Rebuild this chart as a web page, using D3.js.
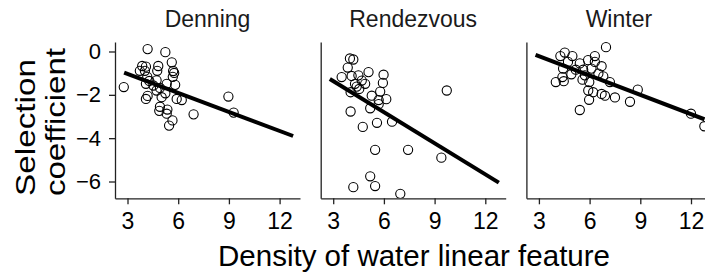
<!DOCTYPE html>
<html>
<head>
<meta charset="utf-8">
<script src="https://cdn.jsdelivr.net/npm/d3@7"></script>
<style>
  body { margin: 0; background: #fff; }
  svg { display: block; font-family: "Liberation Sans", Arial, sans-serif; }
</style>
</head>
<body>
<svg id="chart" width="705" height="275"></svg>
<script>
// facets
var seasons = ["Denning", "Rendezvous", "Winter"];

// points
var denX = [4.19, 5.24, 2.78, 5.62, 3.87, 4.09, 4.82, 3.73, 4.03, 4.76, 5.76, 5.68, 4.17, 4.29, 4.72, 4.09, 5.32, 5.82, 4.92, 4.72,
            5.24, 4.19, 4.09, 5.02, 5.91, 6.21, 4.92, 4.88, 5.36, 5.32, 6.91, 5.66, 5.46, 8.97, 9.28, 4.53, 5.70];
var denY = [0.11, -0.03, -1.64, -0.5, -0.67, -0.7, -0.67, -0.89, -0.89, -0.89, -0.99, -1.17, -1.17, -1.36, -1.33, -1.49, -1.49, -1.54, -1.68, -1.8,
            -1.93, -2.05, -2.19, -2.11, -2.19, -2.24, -2.55, -2.74, -2.68, -2.87, -2.9, -3.18, -3.42, -2.08, -2.82, -1.57, -0.9];

var renX = [3.99, 4.19, 3.86, 3.5, 4.09, 4.49, 5.09, 5.98, 4.69, 4.89, 4.29, 4.03, 4.54, 5.28, 5.78, 5.94, 6.14, 5.19, 5.69, 4.03,
            5.59, 4.75, 6.48, 9.72, 5.48, 7.43, 9.4, 5.19, 5.48, 4.19, 6.97, 4.39, 5.69];
var renY = [-0.32, -0.37, -0.74, -1.18, -1.13, -1.1, -0.95, -1.07, -1.34, -1.49, -1.49, -1.88, -1.73, -2.04, -1.85, -1.45, -2.2, -2.62, -2.43, -2.77,
            -3.29, -3.48, -3.24, -1.8, -4.54, -4.54, -4.9, -5.76, -6.21, -6.26, -6.57, -1.62, -2.24];

var winX = [6.97, 4.53, 4.27, 4.98, 6.31, 5.91, 4.72, 5.42, 6.31, 6.71, 4.43, 5.62, 6.11, 4.92, 4.39, 4.0, 4.47, 5.58, 5.98, 6.81,
            7.2, 5.92, 6.21, 6.71, 6.91, 7.5, 5.97, 8.39, 8.85, 5.42, 12.0, 12.79, 5.18, 6.52, 5.72];
var winY = [0.2, -0.05, -0.21, -0.21, -0.21, -0.4, -0.48, -0.55, -0.48, -0.68, -0.79, -0.84, -0.79, -1.05, -1.18, -1.41, -1.37, -1.3, -1.41, -1.15,
            -1.41, -1.8, -1.88, -1.96, -2.04, -2.12, -2.23, -2.32, -1.76, -2.7, -2.87, -3.45, -0.84, -1.02, -1.1];

// fitted lines (ends)
var fitX = [2.8, 12.8];
var fitDen = [-0.98, -3.9];
var fitRen = [-1.27, -6.05];
var fitWin = [-0.16, -3.13];

var xTicks = [3, 6, 9, 12];
var yTicks = [0, -2, -4, -6];

var panelData = [
  {name: seasons[0], xs: denX, ys: denY, fit: fitDen},
  {name: seasons[1], xs: renX, ys: renY, fit: fitRen},
  {name: seasons[2], xs: winX, ys: winY, fit: fitWin}
];

var svg = d3.select("#chart");
var pw = 185, yTop = 42, yBot = 198.3;
var lefts = [115, 320.7, 526.4];

var x = d3.scaleLinear().domain([2.26, 13.207]).range([0, pw]);
var y = d3.scaleLinear().domain([0.438, -6.775]).range([yTop, yBot]);

svg.append("clipPath").attr("id", "clip")
  .append("rect").attr("x", 0).attr("y", yTop).attr("width", pw).attr("height", yBot - yTop);

panelData.forEach(function(p, i) {
  var g = svg.append("g").attr("transform", "translate(" + lefts[i] + ",0)");

  // strip title
  g.append("text")
    .attr("x", pw / 2).attr("y", 27.3)
    .attr("text-anchor", "middle")
    .attr("font-size", 23).attr("fill", "#1a1a1a")
    .text(p.name);

  var plot = g.append("g").attr("clip-path", "url(#clip)");

  plot.selectAll("circle")
    .data(d3.range(p.xs.length))
    .join("circle")
    .attr("cx", function(k) { return x(p.xs[k]); })
    .attr("cy", function(k) { return y(p.ys[k]); })
    .attr("r", 4.6)
    .attr("fill", "none")
    .attr("stroke", "#000")
    .attr("stroke-width", 1.1);

  plot.append("path")
    .datum([0, 1])
    .attr("d", d3.line().x(function(k) { return x(fitX[k]); }).y(function(k) { return y(p.fit[k]); }))
    .attr("stroke", "#000").attr("stroke-width", 4).attr("fill", "none");

  // x axis
  var xa = g.append("g").attr("transform", "translate(0," + yBot + ")")
    .call(d3.axisBottom(x).tickValues(xTicks).tickSize(6).tickSizeOuter(0).tickPadding(8));
  xa.selectAll("text").attr("font-size", 23).attr("fill", "#000").attr("font-family", null);

  // y axis
  var ya = g.append("g")
    .call(d3.axisLeft(y).tickValues(i === 0 ? yTicks : []).tickSize(6).tickSizeOuter(0).tickPadding(8));
  ya.selectAll("text").attr("font-size", 22).attr("fill", "#000").attr("font-family", null);

  g.selectAll(".domain, .tick line").attr("stroke", "#222").attr("stroke-width", 1.3);
});

// axis titles
svg.append("text")
  .attr("x", 414).attr("y", 266)
  .attr("text-anchor", "middle")
  .attr("font-size", 29).attr("fill", "#000")
  .attr("textLength", 392).attr("lengthAdjust", "spacingAndGlyphs")
  .text("Density of water linear feature");

svg.append("text")
  .attr("transform", "translate(35,196) rotate(-90)")
  .attr("font-size", 28).attr("fill", "#000")
  .attr("textLength", 137).attr("lengthAdjust", "spacingAndGlyphs")
  .text("Selection");

svg.append("text")
  .attr("transform", "translate(65,196) rotate(-90)")
  .attr("font-size", 28).attr("fill", "#000")
  .attr("textLength", 148).attr("lengthAdjust", "spacingAndGlyphs")
  .text("coefficient");
</script>
</body>
</html>
